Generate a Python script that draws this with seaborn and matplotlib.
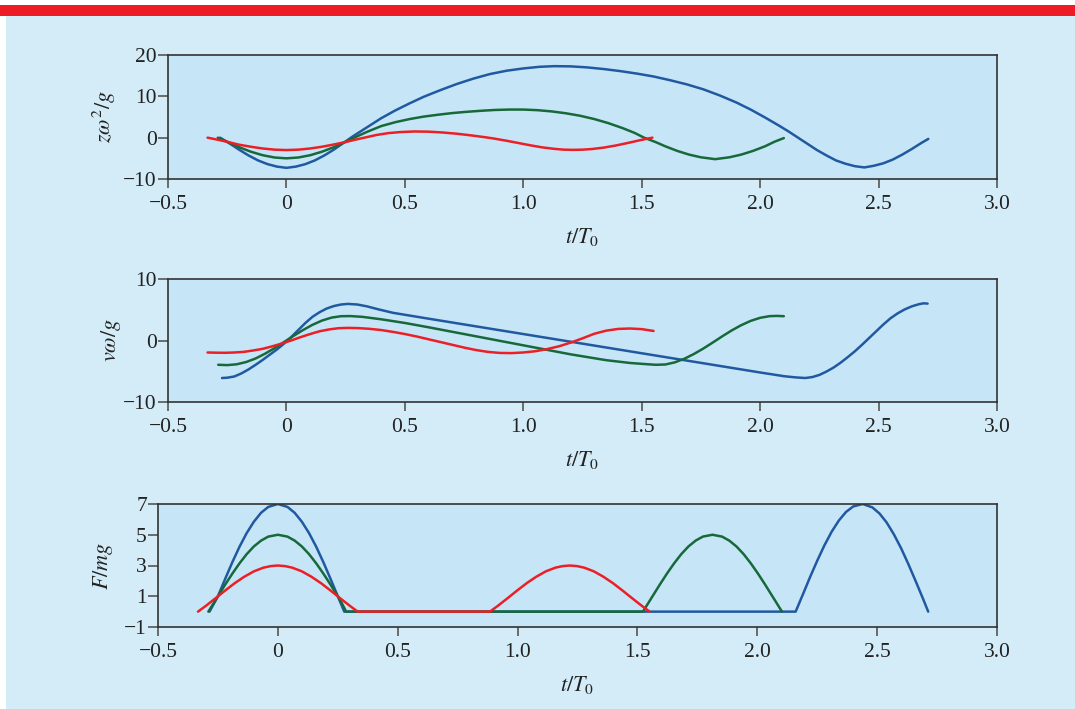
import pandas as pd
import matplotlib
matplotlib.use("Agg")
import matplotlib.pyplot as plt
import seaborn as sns
from matplotlib.patches import Rectangle

# ---- panel 1: z*omega^2/g vs t/T0 ----
t_z_blue = [-0.28, -0.24, -0.20, -0.16, -0.12, -0.08, -0.04, 0.00, 0.04, 0.08, 0.12, 0.16, 0.20, 0.24, 0.28,
            0.34, 0.40, 0.46, 0.52, 0.58, 0.65, 0.72, 0.79, 0.86, 0.93, 1.00, 1.07, 1.13, 1.20, 1.27,
            1.34, 1.41, 1.48, 1.55, 1.62, 1.69, 1.76, 1.83, 1.90, 1.96, 2.02, 2.08, 2.12, 2.16,
            2.20, 2.24, 2.28, 2.32, 2.36, 2.40, 2.44, 2.48, 2.52, 2.56, 2.60, 2.64, 2.68, 2.71]
z_blue = [0.0, -1.4, -2.9, -4.3, -5.5, -6.4, -7.0, -7.3, -7.0, -6.4, -5.5, -4.3, -2.9, -1.3, 0.3,
          2.5, 4.7, 6.6, 8.3, 9.9, 11.5, 13.0, 14.3, 15.4, 16.2, 16.75, 17.15, 17.3, 17.25, 17.0,
          16.6, 16.1, 15.5, 14.8, 13.9, 12.9, 11.7, 10.2, 8.5, 6.8, 4.9, 2.9, 1.5, 0.0,
          -1.5, -3.0, -4.3, -5.5, -6.3, -6.9, -7.2, -6.8, -6.2, -5.3, -4.1, -2.75, -1.3, -0.3]

t_z_green = [-0.29, -0.25, -0.20, -0.15, -0.10, -0.05, 0.00, 0.05, 0.10, 0.15, 0.20, 0.25, 0.29,
             0.34, 0.40, 0.46, 0.52, 0.58, 0.64, 0.70, 0.76, 0.82, 0.88, 0.94, 1.00, 1.06, 1.12,
             1.18, 1.24, 1.30, 1.36, 1.42, 1.47, 1.51,
             1.56, 1.60, 1.65, 1.70, 1.75, 1.81, 1.87, 1.92, 1.97, 2.02, 2.06, 2.10]
z_green = [0.0, -1.0, -2.3, -3.4, -4.25, -4.8, -5.0, -4.8, -4.25, -3.4, -2.3, -1.0, 0.1,
           1.4, 2.8, 3.75, 4.5, 5.1, 5.55, 5.95, 6.25, 6.5, 6.7, 6.8, 6.8, 6.65, 6.35,
           5.9, 5.3, 4.5, 3.5, 2.3, 1.15, 0.0,
           -1.1, -2.1, -3.2, -4.1, -4.75, -5.2, -4.75, -4.1, -3.2, -2.1, -1.0, -0.1]

t_z_red = [-0.333, -0.29, -0.25, -0.20, -0.15, -0.10, -0.05, 0.00, 0.05, 0.10, 0.15, 0.20, 0.25, 0.29, 0.333,
           0.38, 0.43, 0.48, 0.54, 0.60, 0.66, 0.72, 0.78, 0.84, 0.88, 0.93, 0.98, 1.03, 1.08, 1.13,
           1.17, 1.21, 1.25, 1.29, 1.34, 1.39, 1.44, 1.49, 1.545]
z_red = [0.0, -0.5, -1.0, -1.7, -2.2, -2.62, -2.9, -3.0, -2.9, -2.62, -2.2, -1.65, -1.05, -0.5, 0.05,
         0.65, 1.1, 1.35, 1.5, 1.45, 1.25, 0.95, 0.55, 0.1, -0.25, -0.75, -1.3, -1.85, -2.35, -2.7,
         -2.9, -2.95, -2.9, -2.75, -2.4, -1.9, -1.3, -0.65, 0.0]

# ---- panel 2: v*omega/g vs t/T0 ----
t_v_blue = [-0.272, -0.25, -0.22, -0.19, -0.16, -0.13, -0.10, -0.07, -0.04, -0.01, 0.02, 0.05, 0.08, 0.11,
            0.14, 0.17, 0.20, 0.23, 0.26, 0.30, 0.34, 0.39, 0.45, 0.60, 0.80, 1.00, 1.20, 1.40, 1.60,
            1.80, 2.00, 2.10, 2.15, 2.19, 2.22, 2.25, 2.28, 2.31, 2.34, 2.37, 2.40, 2.43, 2.46, 2.49,
            2.52, 2.55, 2.58, 2.61, 2.64, 2.67, 2.69, 2.707]
v_blue = [-6.1, -6.05, -5.85, -5.35, -4.7, -3.95, -3.15, -2.3, -1.45, -0.5, 0.55, 1.7, 2.85, 3.85,
          4.6, 5.2, 5.6, 5.85, 5.95, 5.85, 5.55, 5.05, 4.5, 3.55, 2.3, 1.05, -0.2, -1.45, -2.7,
          -3.95, -5.2, -5.8, -6.0, -6.1, -5.95, -5.6, -5.05, -4.4, -3.6, -2.7, -1.75, -0.7, 0.4, 1.5,
          2.6, 3.6, 4.4, 5.05, 5.55, 5.9, 6.05, 6.0]

t_v_green = [-0.288, -0.25, -0.21, -0.17, -0.13, -0.09, -0.05, -0.01, 0.03, 0.07, 0.11, 0.15, 0.19, 0.23, 0.27,
             0.32, 0.40, 0.50, 0.60, 0.75, 0.90, 1.05, 1.20, 1.35, 1.45, 1.52,
             1.56, 1.60, 1.64, 1.68, 1.72, 1.76, 1.80, 1.84, 1.88, 1.92, 1.96, 2.00, 2.04, 2.07, 2.10]
v_green = [-3.95, -4.0, -3.87, -3.5, -2.92, -2.14, -1.24, -0.25, 0.75, 1.7, 2.55, 3.24, 3.72, 3.95, 3.97,
           3.85, 3.45, 2.85, 2.15, 1.05, -0.05, -1.15, -2.25, -3.2, -3.65, -3.85,
           -3.95, -3.9, -3.55, -2.97, -2.2, -1.31, -0.33, 0.68, 1.64, 2.49, 3.19, 3.69, 3.96, 4.0, 3.95]

t_v_red = [-0.333, -0.30, -0.26, -0.22, -0.18, -0.14, -0.10, -0.06, -0.02, 0.02, 0.06, 0.10, 0.14, 0.18,
           0.22, 0.26, 0.30, 0.35, 0.40, 0.45, 0.50, 0.55, 0.60, 0.65, 0.70, 0.75, 0.80, 0.85, 0.90,
           0.95, 1.00, 1.05, 1.10, 1.15, 1.20, 1.25, 1.30, 1.35, 1.40, 1.45, 1.50, 1.55]
v_red = [-1.95, -1.98, -2.0, -1.95, -1.85, -1.62, -1.35, -0.95, -0.5, 0.0, 0.55, 1.05, 1.5, 1.8,
         2.0, 2.05, 2.02, 1.9, 1.7, 1.4, 1.05, 0.65, 0.2, -0.25, -0.7, -1.15, -1.55, -1.85, -2.02,
         -2.05, -1.95, -1.75, -1.4, -0.95, -0.35, 0.35, 1.1, 1.6, 1.88, 1.95, 1.85, 1.55]

# ---- panel 3: F/mg vs t/T0 ----
t_f_blue = [-0.285, -0.25, -0.22, -0.19, -0.16, -0.13, -0.10, -0.07, -0.04, 0.00, 0.04, 0.07, 0.10, 0.13,
            0.16, 0.19, 0.22, 0.25, 0.277, 2.160, 2.19, 2.22, 2.25, 2.28, 2.31, 2.34, 2.37, 2.40, 2.44,
            2.48, 2.51, 2.54, 2.57, 2.60, 2.63, 2.66, 2.69, 2.713]
f_blue = [0.0, 1.0, 2.12, 3.21, 4.22, 5.11, 5.85, 6.43, 6.81, 7.0, 6.81, 6.43, 5.85, 5.11,
          4.22, 3.21, 2.12, 1.0, 0.0, 0.0, 1.11, 2.24, 3.31, 4.31, 5.19, 5.92, 6.48, 6.84, 7.0,
          6.78, 6.38, 5.79, 5.02, 4.12, 3.10, 2.01, 0.89, 0.0]

t_f_green = [-0.29, -0.26, -0.22, -0.19, -0.16, -0.13, -0.10, -0.07, -0.04, 0.00, 0.04, 0.07, 0.10, 0.13,
             0.16, 0.19, 0.22, 0.26, 0.285, 1.523, 1.553, 1.593, 1.623, 1.653, 1.683, 1.713, 1.743, 1.773,
             1.813, 1.853, 1.883, 1.913, 1.943, 1.973, 2.003, 2.033, 2.073, 2.103]
f_green = [0.0, 0.75, 1.75, 2.47, 3.14, 3.74, 4.24, 4.62, 4.88, 5.0, 4.88, 4.62, 4.24, 3.74,
           3.14, 2.47, 1.75, 0.75, 0.0, 0.0, 0.75, 1.75, 2.47, 3.14, 3.74, 4.24, 4.62, 4.88,
           5.0, 4.88, 4.62, 4.24, 3.74, 3.14, 2.47, 1.75, 0.75, 0.0]

t_f_red = [-0.333, -0.30, -0.26, -0.22, -0.18, -0.14, -0.10, -0.06, -0.03, 0.00, 0.03, 0.06, 0.10, 0.14,
           0.18, 0.22, 0.26, 0.30, 0.333, 0.885, 0.918, 0.958, 0.998, 1.038, 1.078, 1.118, 1.158, 1.188,
           1.218, 1.248, 1.278, 1.318, 1.358, 1.398, 1.438, 1.478, 1.518, 1.551]
f_red = [0.0, 0.38, 0.87, 1.37, 1.85, 2.27, 2.62, 2.86, 2.96, 3.0, 2.96, 2.86, 2.62, 2.27,
         1.85, 1.37, 0.87, 0.38, 0.0, 0.0, 0.38, 0.87, 1.37, 1.85, 2.27, 2.62, 2.86, 2.96,
         3.0, 2.96, 2.86, 2.62, 2.27, 1.85, 1.37, 0.87, 0.38, 0.0]

x_ticks = [-0.5, 0, 0.5, 1.0, 1.5, 2.0, 2.5, 3.0]
x_ticklabels = ["\u22120.5", "0", "0.5", "1.0", "1.5", "2.0", "2.5", "3.0"]
runs = ["blue", "green", "red"]
colors = {"blue": "#2159a0", "green": "#17693a", "red": "#ec1f26"}

sns.set_style("ticks")
plt.rcParams["font.family"] = ["Liberation Serif", "DejaVu Serif"]
plt.rcParams["mathtext.fontset"] = "stix"


def make_frame(ts, vals):
    parts = []
    for run, t, v in zip(runs, ts, vals):
        parts.append(pd.DataFrame({"t": t, "val": v, "run": run}))
    return pd.concat(parts, ignore_index=True)


panels = [
    (make_frame([t_z_blue, t_z_green, t_z_red], [z_blue, z_green, z_red]),
     r"$z\omega^2/g$", (-10, 20), [-10, 0, 10, 20], ["\u221210", "0", "10", "20"],
     [168, 55, 997, 179], 118),
    (make_frame([t_v_blue, t_v_green, t_v_red], [v_blue, v_green, v_red]),
     r"$v\omega/g$", (-10, 10), [-10, 0, 10], ["\u221210", "0", "10"],
     [168, 279, 997, 402], 123),
    (make_frame([t_f_blue, t_f_green, t_f_red], [f_blue, f_green, f_red]),
     r"$F/mg$", (-1, 7), [-1, 1, 3, 5, 7], ["\u22121", "1", "3", "5", "7"],
     [158, 504, 997, 627], 115),
]

W, H = 1075, 709
fig = plt.figure(figsize=(W / 100, H / 100), dpi=100, facecolor="white")
fig.patches.append(Rectangle((6 / W, 0), 1 - 6 / W, 1 - 16 / H, transform=fig.transFigure,
                             facecolor="#d3ecf8", edgecolor="none", zorder=-10))
fig.patches.append(Rectangle((0, 1 - 16 / H), 1, 11 / H, transform=fig.transFigure,
                             facecolor="#ed1c24", edgecolor="none", zorder=-10))

for df, ylab, ylim, yt, ytl, (x0, y0, x1, y1), ylab_x in panels:
    ax = fig.add_axes([x0 / W, 1 - y1 / H, (x1 - x0) / W, (y1 - y0) / H])
    ax.set_facecolor("#c6e6f8")
    sns.lineplot(data=df, x="t", y="val", hue="run", hue_order=runs, palette=colors,
                 sort=False, estimator=None, legend=False, lw=1.8, ax=ax)
    ax.set_xlim(-0.5, 3.0)
    ax.set_ylim(*ylim)
    ax.set_xticks(x_ticks)
    ax.set_xticklabels(x_ticklabels)
    ax.set_yticks(yt)
    ax.set_yticklabels(ytl)
    ax.tick_params(axis="x", length=6.5, width=1.2, color="#555555", pad=5, labelsize=15.5,
                   labelcolor="#222222")
    ax.tick_params(axis="y", length=7, width=1.2, color="#555555", pad=1, labelsize=15.5,
                   labelcolor="#222222")
    for s in ax.spines.values():
        s.set_color("#333333")
        s.set_linewidth(1.2)
    ax.set_xlabel(r"$t/T_{\mathit{0}}$", fontsize=16, color="#222222", labelpad=9)
    ax.set_ylabel(ylab, fontsize=16, color="#222222")
    ax.yaxis.set_label_coords((ylab_x - x0) / (x1 - x0), 0.5)

fig.savefig("out.png", dpi=100, facecolor=fig.get_facecolor())
